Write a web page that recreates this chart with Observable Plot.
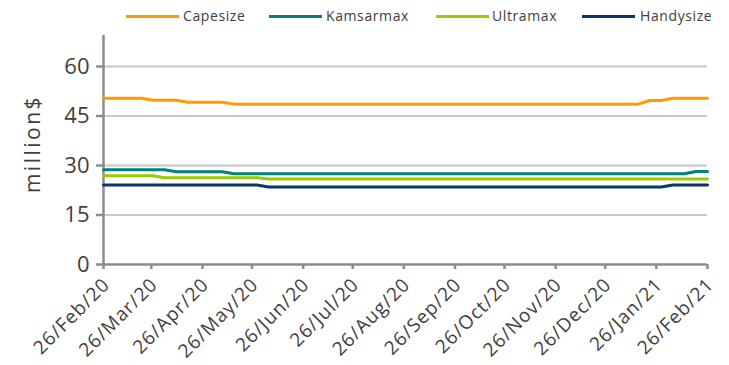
<!DOCTYPE html>
<html>
<head>
<meta charset="utf-8">
<script src="https://cdn.jsdelivr.net/npm/d3@7"></script>
<script src="https://cdn.jsdelivr.net/npm/@observablehq/plot@0.6"></script>
<style>
  html, body { margin: 0; padding: 0; background: #fff; }
  #wrap { position: relative; width: 729px; height: 365px; overflow: hidden; font-family: "Open Sans", sans-serif; }
  #chart { position: absolute; left: 0; top: 0; }
  .lg-line { position: absolute; height: 3px; top: 15px; }
  .lg-text { position: absolute; top: 6px; font-size: 14px; color: #404040; letter-spacing: 0.6px; line-height: 20px; white-space: nowrap; }
</style>
</head>
<body>
<div id="wrap">
  <div id="chart"></div>
  <div id="legend"></div>
</div>
<script>
// ---- data ----
const seriesNames = ["Capesize", "Kamsarmax", "Ultramax", "Handysize"];
const seriesColors = ["#FF9A00", "#00807F", "#99CC00", "#0B3768"];

const capesizeDates  = ["2020-02-26","2020-03-20","2020-03-27","2020-04-10","2020-04-17","2020-05-08","2020-05-15","2021-01-15","2021-01-22","2021-01-29","2021-02-05","2021-02-26"];
const capesizeValues = [50.4, 50.4, 49.8, 49.8, 49.2, 49.2, 48.6, 48.6, 49.7, 49.7, 50.4, 50.4];

const kamsarmaxDates  = ["2020-02-26","2020-04-03","2020-04-10","2020-05-08","2020-05-15","2021-02-12","2021-02-19","2021-02-26"];
const kamsarmaxValues = [28.7, 28.7, 28.1, 28.1, 27.5, 27.5, 28.2, 28.2];

const ultramaxDates  = ["2020-02-26","2020-03-27","2020-04-03","2020-05-29","2020-06-05","2021-02-26"];
const ultramaxValues = [26.9, 26.9, 26.3, 26.3, 25.9, 25.9];

const handysizeDates  = ["2020-02-26","2020-05-29","2020-06-05","2021-01-29","2021-02-05","2021-02-26"];
const handysizeValues = [24.1, 24.1, 23.5, 23.5, 24.1, 24.1];

const xTickDates = ["2020-02-26","2020-03-26","2020-04-26","2020-05-26","2020-06-26","2020-07-26","2020-08-26","2020-09-26","2020-10-26","2020-11-26","2020-12-26","2021-01-26","2021-02-26"];
const yTicks = [0, 15, 30, 45, 60];
const yLabel = "million$";

// ---- build table ----
const parse = d3.utcParse("%Y-%m-%d");
const allDates = [capesizeDates, kamsarmaxDates, ultramaxDates, handysizeDates];
const allValues = [capesizeValues, kamsarmaxValues, ultramaxValues, handysizeValues];
const rows = [];
seriesNames.forEach((name, i) => {
  allDates[i].forEach((d, j) => rows.push({series: name, date: parse(d), value: allValues[i][j]}));
});
const xStart = parse(xTickDates[0]);
const xEnd = parse(xTickDates[xTickDates.length - 1]);
const yMax = 69.4;
const fmt = d3.utcFormat("%d/%b/%y");
const xTicks = xTickDates.map(parse);

const axisGray = "#8C8C8C";
const textGray = "#404040";

const chart = Plot.plot({
  width: 729,
  height: 365,
  marginLeft: 103,
  marginRight: 22,
  marginTop: 35,
  marginBottom: 101,
  style: { fontFamily: "'Open Sans', sans-serif", background: "transparent", overflow: "visible" },
  x: { type: "utc", domain: [xStart, xEnd] },
  y: { domain: [0, yMax] },
  color: { domain: seriesNames, range: seriesColors },
  marks: [
    Plot.gridY(yTicks.filter(t => t > 0), { stroke: "#C8C8C8", strokeWidth: 2, strokeOpacity: 1 }),
    Plot.ruleX([xStart], { y1: 0, y2: yMax, stroke: axisGray, strokeWidth: 2.5 }),
    Plot.ruleY([0], { stroke: axisGray, strokeWidth: 2.5 }),
    Plot.axisY({ ticks: yTicks, tickSize: 7, tickPadding: 7, stroke: axisGray, strokeWidth: 2.5, fill: textGray, fontSize: 22, label: null }),
    Plot.axisX({ ticks: xTicks, tickFormat: () => "", tickSize: 5, stroke: axisGray, strokeWidth: 2.5, label: null }),
    Plot.axisX({ ticks: xTicks, tickFormat: fmt, tickSize: 0, tickPadding: 17, dx: 3, tickRotate: -45, fill: textGray, fontSize: 19, label: null }),
    Plot.text([yLabel], { frameAnchor: "left", textAnchor: "middle", dx: -70, dy: -6, rotate: -90, fontSize: 21, fill: textGray }),
    Plot.line(rows, { x: "date", y: "value", z: "series", stroke: "series", strokeWidth: 3 })
  ]
});
chart.querySelectorAll("g[aria-label='x-axis tick label'] text").forEach(t => t.setAttribute("letter-spacing", "1"));
chart.querySelectorAll("g[aria-label='text'] text").forEach(t => t.setAttribute("letter-spacing", "2.5"));
document.getElementById("chart").appendChild(chart);

// ---- legend ----
const legendLineX = [126, 269, 436, 582];
const legendTextX = [183, 326, 492, 640];
const legend = document.getElementById("legend");
seriesNames.forEach((name, i) => {
  const ln = document.createElement("div");
  ln.className = "lg-line";
  ln.style.left = legendLineX[i] + "px";
  ln.style.width = "53px";
  ln.style.background = seriesColors[i];
  legend.appendChild(ln);
  const tx = document.createElement("div");
  tx.className = "lg-text";
  tx.style.left = legendTextX[i] + "px";
  tx.textContent = name;
  legend.appendChild(tx);
});
</script>
</body>
</html>
